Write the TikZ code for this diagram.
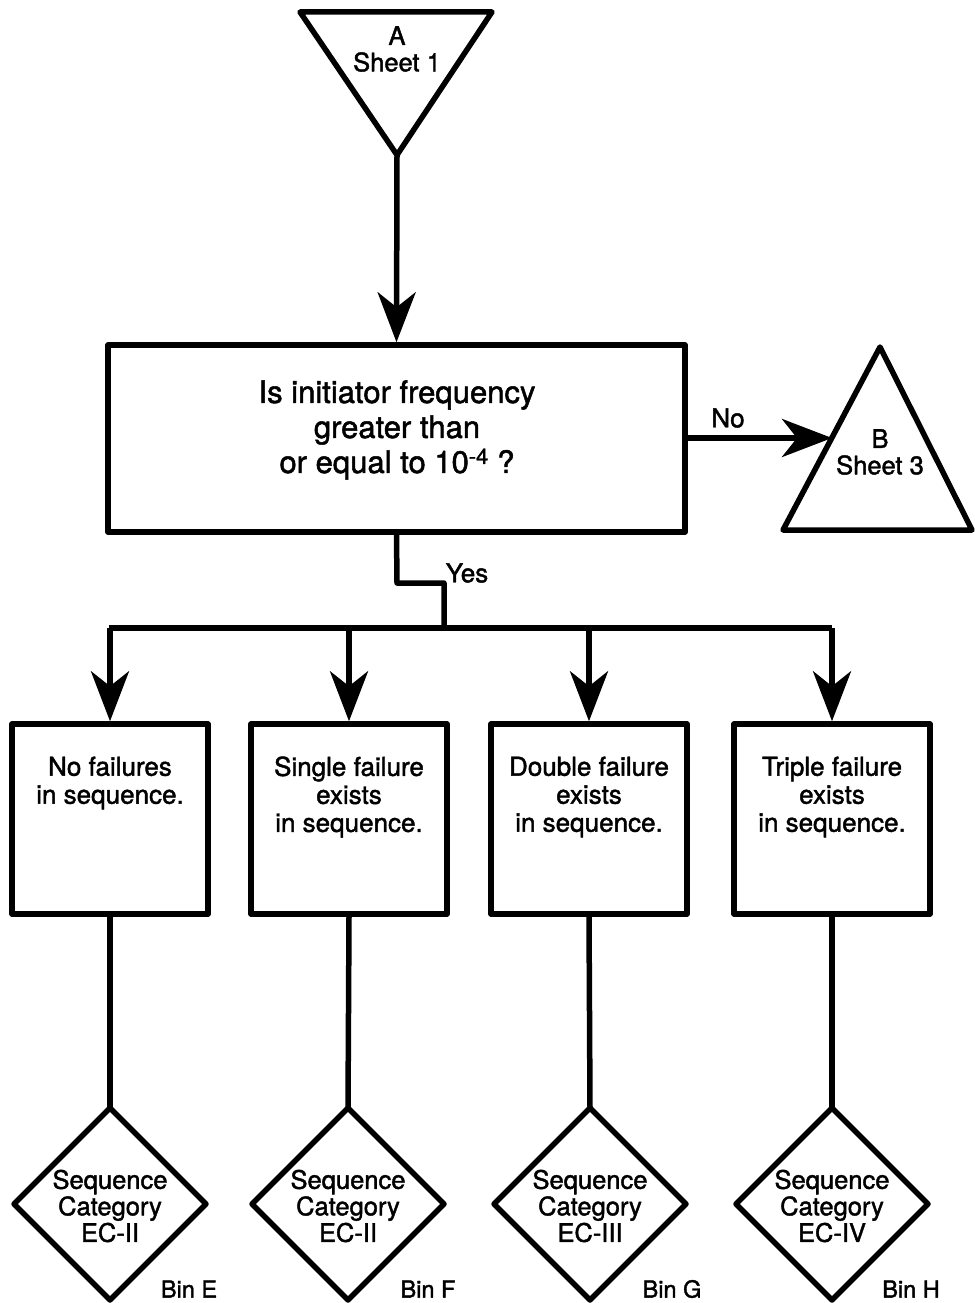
\documentclass[tikz,border=0pt]{standalone}
\usepackage{fontspec}
\setmainfont{TeX Gyre Heros}[FakeBold=1.6]
\usetikzlibrary{arrows.meta}
\begin{document}
\begin{tikzpicture}[x=1pt,y=-1pt,
  line width=5.5pt, line join=round,
  arr/.style={-{Stealth[length=50pt,width=38pt,inset=15pt]}},
  boxnode/.style={draw, rectangle, inner sep=0pt, minimum width=196pt, minimum height=190pt},
  lbl/.style={inner sep=0pt, align=center},
  big/.style={lbl, font=\fontsize{31}{35}\selectfont},
  mid/.style={lbl, font=\fontsize{26}{28}\selectfont},
  small/.style={lbl, font=\fontsize{25.5}{26.5}\selectfont},
  binlbl/.style={lbl, font=\fontsize{23.5}{26}\selectfont}]
\useasboundingbox (0,0) rectangle (974,1303);

% off-page connector A (from sheet 1)
\coordinate (Atl) at (300,12);
\coordinate (Atr) at (492,12);
\coordinate (Aapex) at (397,155);
\draw (Atl) -- (Atr) -- (Aapex) -- cycle;
\node[small] (Alab) at (397,49) {A\\Sheet 1};

% decision box
\node[draw, rectangle, inner sep=0pt, minimum width=577pt, minimum height=187pt] (q) at (396.5,438.5) {};
\node[big] (qtext) at (397,430) {Is initiator frequency\\greater than\\or equal to 10\textsuperscript{-4} ?};
\draw[arr] (Aapex) -- (q.north);

% off-page connector B (to sheet 3)
\coordinate (Bapex) at (880,347);
\coordinate (Bbr) at (972,530);
\coordinate (Bbl) at (783,530);
\draw (Bapex) -- (Bbr) -- (Bbl) -- cycle;
\node[small] (Blab) at (880,452) {B\\Sheet 3};
\coordinate (Bin) at (832,438);
\draw[arr] (q.east |- Bin) -- (Bin);
\node[mid] (no) at (728,418) {No};

% yes branch to the bus
\coordinate (y1) at (397,583);
\coordinate (y2) at (444,583);
\coordinate (y3) at (444,628);
\draw (q.south) -- (y1) -- (y2) -- (y3);
\node[mid] (yes) at (467,573) {Yes};
\coordinate (busL) at (109,628);
\coordinate (busR) at (832,628);
\draw (busL) -- (busR);

% failure-count boxes
\node[boxnode] (b1) at (110,819) {};
\node[boxnode] (b2) at (349,819) {};
\node[boxnode] (b3) at (589,819) {};
\node[boxnode] (b4) at (832,819) {};
\node[mid] (t1) at (110,783) {No failures\\in sequence.};
\node[mid] (t2) at (349,797) {Single failure\\exists\\in sequence.};
\node[mid] (t3) at (589,797) {Double failure\\exists\\in sequence.};
\node[mid] (t4) at (832,797) {Triple failure\\exists\\in sequence.};

\foreach \b in {b1,b2,b3,b4}{
  \draw[arr] (\b.north |- busL) -- (\b.north);
}

% sequence category diamonds
\foreach \n/\x in {d1/110,d2/348,d3/590,d4/832}{
  \coordinate (\n t) at (\x,1108);
  \coordinate (\n r) at (\x+96,1204);
  \coordinate (\n b) at (\x,1300);
  \coordinate (\n l) at (\x-96,1204);
  \draw (\n t) -- (\n r) -- (\n b) -- (\n l) -- cycle;
}
\draw (b1.south) -- (d1t);
\draw (b2.south) -- (d2t);
\draw (b3.south) -- (d3t);
\draw (b4.south) -- (d4t);

\node[small] (c1) at (110,1206) {Sequence\\Category\\EC-II};
\node[small] (c2) at (348,1206) {Sequence\\Category\\EC-II};
\node[small] (c3) at (590,1206) {Sequence\\Category\\EC-III};
\node[small] (c4) at (832,1206) {Sequence\\Category\\EC-IV};

\node[binlbl] (bE) at (189,1289) {Bin E};
\node[binlbl] (bF) at (428,1289) {Bin F};
\node[binlbl] (bG) at (672,1289) {Bin G};
\node[binlbl] (bH) at (911,1289) {Bin H};
\end{tikzpicture}
\end{document}
